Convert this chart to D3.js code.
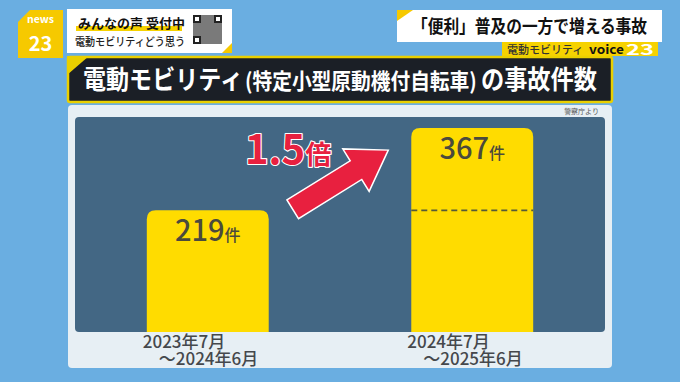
<!DOCTYPE html>
<html><head><meta charset="utf-8">
<script src="https://cdn.jsdelivr.net/npm/d3@7"></script>
<style>
html,body{margin:0;padding:0;background:#6aaee1;}
svg{display:block;}
text{font-family:"Noto Sans CJK JP","Noto Sans",sans-serif;}
</style></head>
<body>
<script>
// ---- data ----
const categories = ["2023年7月〜2024年6月", "2024年7月〜2025年6月"];
const labelLine1 = ["2023年7月", "2024年7月"];
const labelLine2 = ["〜2024年6月", "〜2025年6月"];
const values = [219, 367];
const unitLabel = "件";
const ratioNumber = "1.5";
const ratioUnit = "倍";
const chartTitleMain = "電動モビリティ";
const chartTitleParen = "(特定小型原動機付自転車)";
const chartTitleEnd = "の事故件数";
const sourceNote = "警察庁より";
const headline = "「便利」普及の一方で増える事故";

const W = 680, H = 382;
const svg = d3.select("body").append("svg").attr("width", W).attr("height", H);

// background
svg.append("rect").attr("width", W).attr("height", H).attr("fill", "#6aaee1");

// ---- top-left logo ----
svg.append("path").attr("d", "M18,22 L30,10 L63,10 L63,58 L18,58 Z").attr("fill", "#f6c900");
svg.append("text").attr("x", 40.5).attr("y", 23).attr("text-anchor", "middle")
  .attr("font-family", "DejaVu Sans").attr("font-weight", "bold").attr("font-size", 10.5)
  .attr("fill", "#fff").text("news");
svg.append("text").attr("x", 40.5).attr("y", 51).attr("text-anchor", "middle")
  .attr("font-family", "DejaVu Sans").attr("font-weight", "bold").attr("font-size", 20)
  .attr("fill", "#fff").text("23");

svg.append("rect").attr("x", 67).attr("y", 9).attr("width", 165).attr("height", 44).attr("fill", "#fff");
svg.append("path").attr("d", "M232,43 L232,53 L222,53 Z").attr("fill", "#f6c900");
svg.append("rect").attr("x", 76).attr("y", 26).attr("width", 106).attr("height", 5).attr("fill", "#f6d200");
svg.append("text").attr("x", 78).attr("y", 28).attr("font-weight", "bold").attr("font-size", 13)
  .attr("fill", "#111").text("みんなの声 受付中");
svg.append("text").attr("x", 75).attr("y", 46).attr("font-weight", "500").attr("font-size", 11.5)
  .attr("textLength", 110).attr("lengthAdjust", "spacingAndGlyphs")
  .attr("fill", "#222").text("電動モビリティどう思う");
// QR code (decorative)
const qr = svg.append("g").attr("transform", "translate(193,15)");
qr.append("rect").attr("width", 29).attr("height", 29).attr("fill", "#7a7a7a");
[[0,0],[21,0],[0,21]].forEach(([a,b]) => {
  qr.append("rect").attr("x", a).attr("y", b).attr("width", 8).attr("height", 8).attr("fill", "#222");
  qr.append("rect").attr("x", a+2).attr("y", b+2).attr("width", 4).attr("height", 4).attr("fill", "#fff");
});

// ---- top-right headline ----
svg.append("rect").attr("x", 397).attr("y", 10).attr("width", 265).attr("height", 32).attr("fill", "#fff");
svg.append("path").attr("d", "M397,10 L413,10 L397,21 Z").attr("fill", "#f6c900");
svg.append("text").attr("x", 412).attr("y", 33).attr("font-weight", "bold").attr("font-size", 18)
  .attr("textLength", 235).attr("lengthAdjust", "spacingAndGlyphs")
  .attr("fill", "#111").text(headline);
svg.append("rect").attr("x", 502).attr("y", 42).attr("width", 156).attr("height", 14).attr("fill", "#f6d200");
svg.append("text").attr("x", 507).attr("y", 53.5).attr("font-weight", "500").attr("font-size", 11)
  .attr("fill", "#333").text("電動モビリティ");
svg.append("text").attr("x", 589).attr("y", 54).attr("font-family", "DejaVu Sans").attr("font-weight", "bold")
  .attr("font-size", 12.5).attr("textLength", 35).attr("lengthAdjust", "spacingAndGlyphs")
  .attr("fill", "#111").text("voice");
svg.append("text").attr("x", 626).attr("y", 55).attr("font-family", "DejaVu Sans").attr("font-weight", "bold")
  .attr("font-size", 15).attr("textLength", 28).attr("lengthAdjust", "spacingAndGlyphs")
  .attr("fill", "#fff").text("23");

// ---- title banner ----
svg.append("rect").attr("x", 68).attr("y", 57).attr("width", 544).attr("height", 45)
  .attr("fill", "#1b1f26").attr("stroke", "#ead000").attr("stroke-width", 2.5).attr("rx", 2);
svg.append("path").attr("d", "M67,56 L89,56 L67,75 Z").attr("fill", "#ead000");
[[chartTitleMain, 83, 160, 26], [chartTitleParen, 245, 232, 22], [chartTitleEnd, 481, 116, 26]]
  .forEach(([t, x0, len, fs]) => {
    const g = svg.append("g").attr("transform", `translate(${x0},89)`);
    const tx = g.append("text").attr("font-weight", "bold").attr("font-size", fs)
      .attr("fill", "#fff").text(t);
    const natural = tx.node().getComputedTextLength();
    g.attr("transform", `translate(${x0},89) scale(${len / natural},1)`);
  });

// ---- chart panel ----
svg.append("rect").attr("x", 68).attr("y", 105).attr("width", 544).attr("height", 263)
  .attr("fill", "#e7eff4").attr("rx", 4);
svg.append("text").attr("x", 599).attr("y", 114).attr("text-anchor", "end").attr("font-size", 7)
  .attr("fill", "#555").text(sourceNote);

const plot = {left: 75, right: 605, top: 117, bottom: 332};
svg.append("rect").attr("x", plot.left).attr("y", plot.top).attr("width", plot.right - plot.left)
  .attr("height", plot.bottom - plot.top).attr("fill", "#436784").attr("rx", 4);

const x = d3.scaleBand().domain(categories).range([plot.left, plot.right])
  .paddingInner(0.539).paddingOuter(0.2715);
const y = d3.scaleLinear().domain([0, 387]).range([plot.bottom, plot.top]);

const r = 9;
function barPath(x0, w, yTop, yBot) {
  return `M${x0},${yBot} L${x0},${yTop + r} Q${x0},${yTop} ${x0 + r},${yTop} L${x0 + w - r},${yTop} Q${x0 + w},${yTop} ${x0 + w},${yTop + r} L${x0 + w},${yBot} Z`;
}
svg.selectAll("path.bar").data(values).enter().append("path").attr("class", "bar")
  .attr("d", (d, i) => barPath(x(categories[i]), x.bandwidth(), y(d), y(0)))
  .attr("fill", "#ffdc00");

// reference dashed line on second bar at first bar's level
svg.append("line")
  .attr("x1", x(categories[1])).attr("x2", x(categories[1]) + x.bandwidth())
  .attr("y1", y(values[0])).attr("y2", y(values[0]))
  .attr("stroke", "#555a3a").attr("stroke-width", 1.6).attr("stroke-dasharray", "6,4");

// value labels
const vl = svg.selectAll("text.val").data(values).enter().append("text").attr("class", "val")
  .attr("x", (d, i) => x(categories[i]) + x.bandwidth() / 2)
  .attr("y", d => y(d) + 30.5).attr("text-anchor", "middle").attr("fill", "#4b4a3c");
vl.append("tspan").attr("font-size", 29).attr("font-weight", "500").text(d => d);
vl.append("tspan").attr("font-size", 16).attr("font-weight", "500").text(unitLabel);

// x labels (two lines per category)
const xl = svg.selectAll("text.xl").data(categories).enter().append("text").attr("class", "xl")
  .attr("font-size", 17).attr("font-weight", "500").attr("fill", "#45484c");
xl.append("tspan").attr("x", d => x(d) - 4).attr("y", 348).text((d, i) => labelLine1[i]);
xl.append("tspan").attr("x", d => x(d) + 12).attr("y", 364.5).text((d, i) => labelLine2[i]);

// arrow
const tail = [x(categories[0]) + x.bandwidth() + 24, y(values[0]) - 1];
const tip = [x(categories[1]) - 23, y(values[1]) + 22];
const L = Math.hypot(tip[0] - tail[0], tip[1] - tail[1]);
const ang = Math.atan2(tip[1] - tail[1], tip[0] - tail[0]) * 180 / Math.PI;
const sh = 11, hl = 38, hw = 25;
svg.append("path")
  .attr("d", `M0,${-sh} L${L - hl},${-sh} L${L - hl},${-hw} L${L},0 L${L - hl},${hw} L${L - hl},${sh} L0,${sh} Z`)
  .attr("transform", `translate(${tail[0]},${tail[1]}) rotate(${ang})`)
  .attr("fill", "#e8203f").attr("stroke", "#fff").attr("stroke-width", 1.5).attr("stroke-linejoin", "miter");

// ratio text
const rt = svg.append("text").attr("x", 245).attr("y", 164).attr("font-weight", "bold")
  .attr("fill", "#e8203f").attr("stroke", "#fff").attr("stroke-width", 2.2)
  .attr("paint-order", "stroke").attr("stroke-linejoin", "round");
rt.append("tspan").attr("font-size", 40).text(ratioNumber);
rt.append("tspan").attr("font-size", 26).text(ratioUnit);
</script>
</body></html>
